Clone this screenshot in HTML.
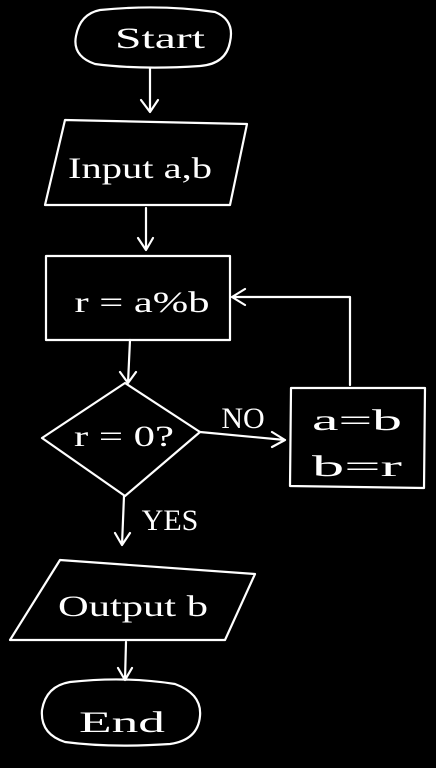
<!DOCTYPE html>
<html><head><meta charset="utf-8"><style>
html,body{margin:0;padding:0;background:#000;width:436px;height:768px;overflow:hidden}
svg{display:block}
text{font-family:"Liberation Serif",serif;fill:#fff;font-size:30px}
</style></head><body>
<svg width="436" height="768" viewBox="0 0 436 768" xmlns="http://www.w3.org/2000/svg">
<g fill="none" stroke="#fff" stroke-width="2.2" stroke-linecap="round" stroke-linejoin="round">
<path d="M100,10 Q160,4 215,12 Q235,20 230,42 Q226,64 200,66 Q140,70 95,64 Q72,56 76,36 Q80,14 100,10 Z"/>
<path d="M150,68 L150,112 M141,100 L150,112 L158,100"/>
<path d="M65,120 L247,124 L230,205 L45,205 Z"/>
<path d="M146,208 L146,250 M138,238 L146,250 L153,238"/>
<path d="M46,256 L230,256 L230,340 L46,340 Z"/>
<path d="M130,340 L128,383 M120,372 L128,383 L136,372"/>
<path d="M125,383 L200,432 L125,496 L42,438 Z"/>
<path d="M200,432 L285,440 M272,432 L285,440 L272,447"/>
<path d="M291,388 L425,388 L424,488 L290,486 Z"/>
<path d="M350,385 L350,297 L232,297 M245,289 L232,297 L245,305"/>
<path d="M124,496 L122,545 M115,533 L122,545 L130,533"/>
<path d="M60,560 L255,574 L225,640 L10,640 Z"/>
<path d="M126,642 L125,680 M118,668 L125,680 L132,668"/>
<path d="M70,682 Q125,676 175,684 Q202,694 200,716 Q198,740 170,744 Q110,748 65,742 Q40,734 42,710 Q46,686 70,682 Z"/>
</g>
<text x="160" y="48" text-anchor="middle" font-size="30" textLength="90" lengthAdjust="spacingAndGlyphs">Start</text>
<text x="140" y="178" text-anchor="middle" font-size="36" textLength="144" lengthAdjust="spacingAndGlyphs">Input a,b</text>
<text x="142" y="312" text-anchor="middle" font-size="44" textLength="135" lengthAdjust="spacingAndGlyphs">r = a%b</text>
<text x="124" y="446" text-anchor="middle" font-size="38" textLength="100" lengthAdjust="spacingAndGlyphs">r = 0?</text>
<text x="243" y="428" text-anchor="middle" font-size="22">NO</text>
<text x="357" y="430" text-anchor="middle" font-size="38" textLength="90" lengthAdjust="spacingAndGlyphs">a=b</text>
<text x="357" y="476" text-anchor="middle" font-size="38" textLength="90" lengthAdjust="spacingAndGlyphs">b=r</text>
<text x="170" y="530" text-anchor="middle" font-size="22">YES</text>
<text x="133" y="616" text-anchor="middle" font-size="34" textLength="150" lengthAdjust="spacingAndGlyphs">Output b</text>
<text x="122" y="732" text-anchor="middle" font-size="36" textLength="86" lengthAdjust="spacingAndGlyphs">End</text>
</svg>
</body></html>
